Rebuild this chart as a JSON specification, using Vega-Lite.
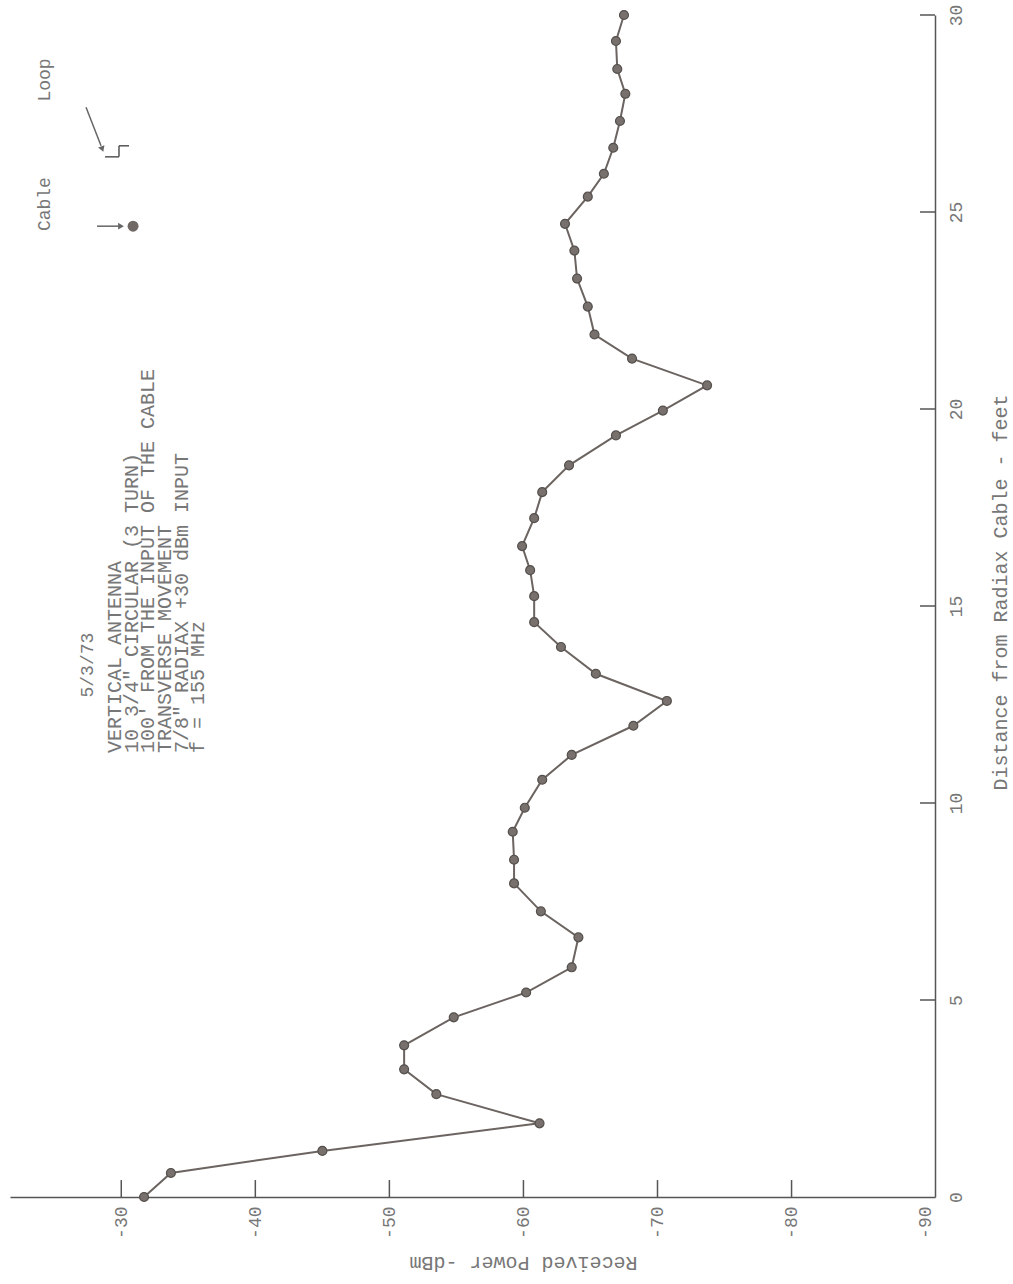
{
  "$schema": "https://vega.github.io/schema/vega-lite/v6.json",
  "width": 925,
  "height": 1182,
  "autosize": {"type": "none"},
  "padding": {"left": 10, "top": 15, "right": 78, "bottom": 87},
  "background": "white",
  "config": {"view": {"stroke": null}, "font": "Liberation Mono"},
  "data": {
    "values": [
      {"distance": 0.00, "power": -31.7},
      {"distance": 0.61, "power": -33.7},
      {"distance": 1.17, "power": -45.0},
      {"distance": 1.87, "power": -61.2},
      {"distance": 2.61, "power": -53.5},
      {"distance": 3.24, "power": -51.1},
      {"distance": 3.85, "power": -51.1},
      {"distance": 4.56, "power": -54.8},
      {"distance": 5.19, "power": -60.2},
      {"distance": 5.83, "power": -63.6},
      {"distance": 6.59, "power": -64.1},
      {"distance": 7.25, "power": -61.3},
      {"distance": 7.96, "power": -59.3},
      {"distance": 8.56, "power": -59.3},
      {"distance": 9.27, "power": -59.2},
      {"distance": 9.88, "power": -60.1},
      {"distance": 10.59, "power": -61.4},
      {"distance": 11.22, "power": -63.6},
      {"distance": 11.96, "power": -68.2},
      {"distance": 12.59, "power": -70.7},
      {"distance": 13.28, "power": -65.4},
      {"distance": 13.96, "power": -62.8},
      {"distance": 14.59, "power": -60.8},
      {"distance": 15.25, "power": -60.8},
      {"distance": 15.91, "power": -60.5},
      {"distance": 16.52, "power": -59.9},
      {"distance": 17.23, "power": -60.8},
      {"distance": 17.89, "power": -61.4},
      {"distance": 18.57, "power": -63.4},
      {"distance": 19.33, "power": -66.9},
      {"distance": 19.96, "power": -70.4},
      {"distance": 20.60, "power": -73.7},
      {"distance": 21.28, "power": -68.1},
      {"distance": 21.89, "power": -65.3},
      {"distance": 22.60, "power": -64.8},
      {"distance": 23.31, "power": -64.0},
      {"distance": 24.02, "power": -63.8},
      {"distance": 24.70, "power": -63.1},
      {"distance": 25.39, "power": -64.8},
      {"distance": 25.97, "power": -66.0},
      {"distance": 26.63, "power": -66.7},
      {"distance": 27.31, "power": -67.2},
      {"distance": 28.00, "power": -67.6},
      {"distance": 28.63, "power": -67.0},
      {"distance": 29.34, "power": -66.9},
      {"distance": 30.00, "power": -67.5}
    ]
  },
  "layer": [
    {
      "mark": {"type": "line", "color": "#6b6461", "strokeWidth": 2},
      "encoding": {
        "x": {
          "field": "power",
          "type": "quantitative",
          "scale": {"domain": [-90.7, -21.7], "reverse": true, "nice": false, "zero": false},
          "axis": {
            "orient": "bottom",
            "title": "Received Power -dBm",
            "values": [-90, -80, -70, -60, -50, -40, -30],
            "grid": false,
            "domainColor": "#555555",
            "domainWidth": 1.5,
            "ticks": false,
            "labelAngle": -90,
            "labelAlign": "right",
            "labelBaseline": "middle",
            "labelPadding": 9,
            "labelFont": "Liberation Mono",
            "labelFontSize": 18,
            "labelColor": "#777777",
            "labelExpr": "'-' + abs(datum.value)",
            "labelFlush": false,
            "labelOverlap": false,
            "titleAngle": 180,
            "titleX": 513,
            "titleY": 65,
            "titleAlign": "center",
            "titleBaseline": "middle",
            "titleFont": "Liberation Mono",
            "titleFontSize": 20,
            "titleFontWeight": "normal",
            "titleColor": "#777777"
          }
        },
        "y": {
          "field": "distance",
          "type": "quantitative",
          "scale": {"domain": [0, 30], "nice": false, "zero": false},
          "axis": {
            "orient": "right",
            "title": "Distance from Radiax Cable - feet",
            "values": [0, 5, 10, 15, 20, 25, 30],
            "grid": false,
            "domainColor": "#555555",
            "domainWidth": 1.5,
            "ticks": false,
            "labelAngle": -90,
            "labelAlign": "center",
            "labelBaseline": "top",
            "labelPadding": 12,
            "labelFont": "Liberation Mono",
            "labelFontSize": 18,
            "labelColor": "#777777",
            "labelFlush": false,
            "labelOverlap": false,
            "titleAngle": -90,
            "titleX": 65,
            "titleY": 577,
            "titleAlign": "center",
            "titleBaseline": "middle",
            "titleFont": "Liberation Mono",
            "titleFontSize": 20,
            "titleFontWeight": "normal",
            "titleColor": "#777777"
          }
        },
        "order": {"field": "distance", "type": "quantitative"}
      }
    },
    {
      "mark": {"type": "circle", "size": 80, "fill": "#77706c", "stroke": "#55504d", "strokeWidth": 1.2, "opacity": 1},
      "encoding": {
        "x": {"field": "power", "type": "quantitative"},
        "y": {"field": "distance", "type": "quantitative"}
      }
    },
    {
      "data": {"values": [{"v": -80}, {"v": -70}, {"v": -60}, {"v": -50}, {"v": -40}, {"v": -30}]},
      "mark": {"type": "rule", "color": "#555555", "strokeWidth": 1.5},
      "encoding": {
        "x": {"field": "v", "type": "quantitative"},
        "y": {"datum": 0},
        "y2": {"datum": 0.43}
      }
    },
    {
      "data": {"values": [{"v": 5}, {"v": 10}, {"v": 15}, {"v": 20}, {"v": 25}, {"v": 30}]},
      "mark": {"type": "rule", "color": "#555555", "strokeWidth": 1.5},
      "encoding": {
        "y": {"field": "v", "type": "quantitative"},
        "x": {"datum": -90.7},
        "x2": {"datum": -89.58}
      }
    },
    {
      "data": {"values": [{}]},
      "mark": {
        "type": "text",
        "text": ["VERTICAL ANTENNA", "10 3/4\" CIRCULAR (3 TURN)", "100' FROM THE INPUT OF THE CABLE", "TRANSVERSE MOVEMENT", "7/8\" RADIAX  +30 dBm INPUT", "f = 155 MHz"],
        "angle": 270,
        "align": "left",
        "baseline": "middle",
        "lineHeight": 16.7,
        "font": "Liberation Mono",
        "fontSize": 20,
        "color": "#777777"
      },
      "encoding": {"x": {"datum": -29.53}, "y": {"datum": 11.27}}
    },
    {
      "data": {"values": [{}]},
      "mark": {"type": "text", "text": "5/3/73", "angle": 270, "align": "center", "baseline": "middle", "font": "Liberation Mono", "fontSize": 18, "color": "#777777"},
      "encoding": {"x": {"datum": -27.52}, "y": {"datum": 13.5}}
    },
    {
      "data": {"values": [{}]},
      "mark": {"type": "text", "text": "Cable", "angle": 270, "align": "center", "baseline": "middle", "font": "Liberation Mono", "fontSize": 18, "color": "#777777"},
      "encoding": {"x": {"datum": -24.31}, "y": {"datum": 25.2}}
    },
    {
      "data": {"values": [{}]},
      "mark": {"type": "text", "text": "Loop", "angle": 270, "align": "center", "baseline": "middle", "font": "Liberation Mono", "fontSize": 18, "color": "#777777"},
      "encoding": {"x": {"datum": -24.31}, "y": {"datum": 28.35}}
    },
    {
      "data": {"values": [{}]},
      "mark": {"type": "rule", "color": "#666666", "strokeWidth": 1.5},
      "encoding": {"x": {"datum": -28.19}, "x2": {"datum": -29.9}, "y": {"datum": 24.64}, "y2": {"datum": 24.64}}
    },
    {
      "data": {"values": [{}]},
      "mark": {"type": "point", "shape": "triangle-right", "filled": true, "size": 45, "color": "#666666", "opacity": 1},
      "encoding": {"x": {"datum": -29.98}, "y": {"datum": 24.64}}
    },
    {
      "data": {"values": [{}]},
      "mark": {"type": "circle", "size": 120, "color": "#6f6865", "opacity": 1},
      "encoding": {"x": {"datum": -30.88}, "y": {"datum": 24.64}}
    },
    {
      "data": {"values": [{}]},
      "mark": {"type": "rule", "color": "#666666", "strokeWidth": 1.5},
      "encoding": {"x": {"datum": -27.37}, "x2": {"datum": -28.49}, "y": {"datum": 27.66}, "y2": {"datum": 26.68}}
    },
    {
      "data": {"values": [{}]},
      "mark": {"type": "point", "shape": "triangle", "filled": true, "size": 45, "angle": 160, "color": "#666666", "opacity": 1},
      "encoding": {"x": {"datum": -28.56}, "y": {"datum": 26.62}}
    },
    {
      "data": {"values": [{}]},
      "mark": {"type": "rule", "color": "#555555", "strokeWidth": 1.5},
      "encoding": {"x": {"datum": -28.79}, "x2": {"datum": -29.83}, "y": {"datum": 26.4}, "y2": {"datum": 26.4}}
    },
    {
      "data": {"values": [{}]},
      "mark": {"type": "rule", "color": "#555555", "strokeWidth": 1.5},
      "encoding": {"x": {"datum": -29.83}, "x2": {"datum": -29.83}, "y": {"datum": 26.4}, "y2": {"datum": 26.68}}
    },
    {
      "data": {"values": [{}]},
      "mark": {"type": "rule", "color": "#555555", "strokeWidth": 1.5},
      "encoding": {"x": {"datum": -29.83}, "x2": {"datum": -30.58}, "y": {"datum": 26.68}, "y2": {"datum": 26.68}}
    }
  ]
}
